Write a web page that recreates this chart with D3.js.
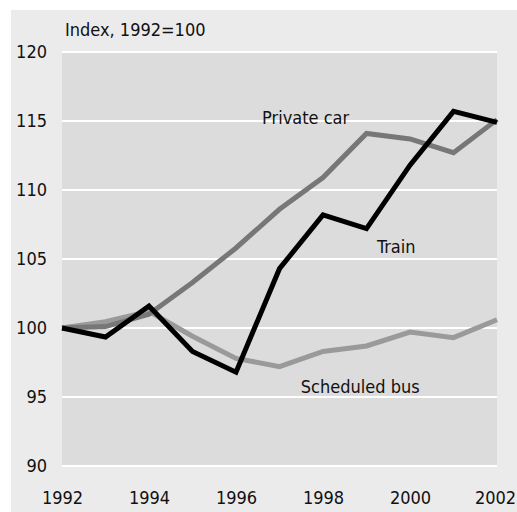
<!DOCTYPE html>
<html>
<head>
<meta charset="utf-8">
<script src="https://cdn.jsdelivr.net/npm/d3@7"></script>
<style>
body { margin: 0; background: #fff; }
text { font-family: "DejaVu Sans", sans-serif; font-stretch: condensed; fill: #111; }
</style>
</head>
<body>
<div class="chart"></div>
<script>
var years = [1992, 1993, 1994, 1995, 1996, 1997, 1998, 1999, 2000, 2001, 2002];
var train = [100, 99.35, 101.6, 98.3, 96.8, 104.3, 108.2, 107.2, 111.8, 115.7, 114.9];
var privateCar = [100, 100.1, 101.0, 103.3, 105.8, 108.6, 110.9, 114.1, 113.7, 112.7, 115.1];
var scheduledBus = [100, 100.45, 101.2, 99.4, 97.8, 97.2, 98.3, 98.7, 99.7, 99.3, 100.6];
var yTicks = [90, 95, 100, 105, 110, 115, 120];
var xTicks = [1992, 1994, 1996, 1998, 2000, 2002];

var svgWidth = 517;
var svgHeight = 512;
var margin = { top: 52, right: 20, bottom: 46, left: 62 };
var width = svgWidth - margin.left - margin.right;
var height = svgHeight - margin.top - margin.bottom;

var svg = d3.select(".chart")
    .append("svg")
    .attr("width", svgWidth)
    .attr("height", svgHeight);

// outer panel
svg.append("rect")
    .attr("x", 11).attr("y", 10)
    .attr("width", svgWidth - 11).attr("height", svgHeight - 10)
    .attr("fill", "#ebebeb");

var chart = svg.append("g")
    .attr("transform", "translate(" + margin.left + "," + margin.top + ")");

var x = d3.scaleLinear().domain([1992, 2002]).range([0, width]);
var y = d3.scaleLinear().domain([90, 120]).range([height, 0]);

chart.append("rect")
    .attr("width", width)
    .attr("height", height)
    .attr("fill", "#dcdcdc");

// gridlines
chart.selectAll(".grid")
    .data(yTicks)
    .enter().append("line")
    .attr("x1", 0).attr("x2", width)
    .attr("y1", function(d) { return y(d); })
    .attr("y2", function(d) { return y(d); })
    .attr("stroke", "#fff")
    .attr("stroke-width", 2);

var leftAxis = d3.axisLeft(y).tickValues(yTicks).tickSize(0).tickPadding(15);
var bottomAxis = d3.axisBottom(x).tickValues(xTicks).tickSize(0).tickPadding(25)
    .tickFormat(d3.format("d"));

var ya = chart.append("g").call(leftAxis);
var xa = chart.append("g").attr("transform", "translate(0," + height + ")").call(bottomAxis);
[ya, xa].forEach(function(a) {
    a.select(".domain").remove();
    a.selectAll("text").style("font-size", "18px")
        .style("font-family", null).attr("font-family", null).attr("fill", "#111");
});
xa.selectAll("text").filter(function(d) { return d === 2002; }).attr("dx", "-2");

var line = d3.line()
    .x(function(d, i) { return x(years[i]); })
    .y(function(d) { return y(d); });

var series = [
    { values: scheduledBus, color: "#9a9a9a" },
    { values: privateCar, color: "#777777" },
    { values: train, color: "#000000" }
];

series.forEach(function(s) {
    chart.append("path")
        .datum(s.values)
        .attr("d", line)
        .attr("fill", "none")
        .attr("stroke", s.color)
        .attr("stroke-width", 5)
        .attr("stroke-linejoin", "miter");
});

svg.append("text")
    .attr("x", 65).attr("y", 36)
    .style("font-size", "18px")
    .text("Index, 1992=100");

var labels = [
    { text: "Private car", year: 1996.6, value: 114.78 },
    { text: "Train", year: 1999.24, value: 105.43 },
    { text: "Scheduled bus", year: 1997.49, value: 95.29 }
];
chart.selectAll(".lbl")
    .data(labels)
    .enter().append("text")
    .attr("x", function(d) { return x(d.year); })
    .attr("y", function(d) { return y(d.value); })
    .style("font-size", "18px")
    .text(function(d) { return d.text; });
</script>
</body>
</html>
